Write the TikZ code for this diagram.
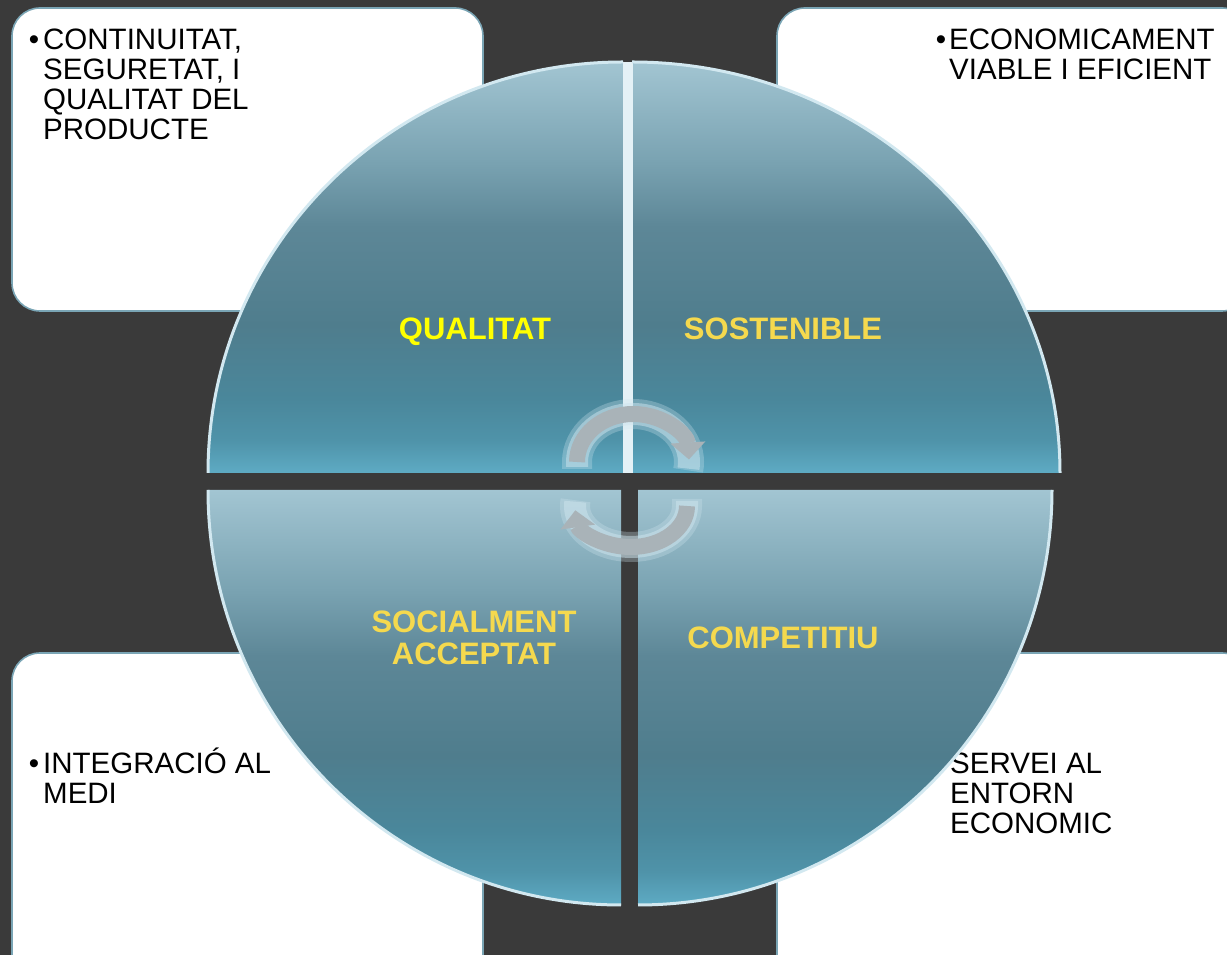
\documentclass[tikz,border=0pt]{standalone}
\usepackage{fontspec}
\setmainfont{Liberation Sans}
\usetikzlibrary{arrows.meta}
\definecolor{bgdark}{HTML}{3A3A3A}
\definecolor{boxedge}{HTML}{7AA5B5}
\definecolor{rimc}{HTML}{D2E8F0}
\definecolor{sepc}{HTML}{E4F1F6}
\definecolor{glowc}{HTML}{CFE5EE}
\definecolor{arrowgray}{HTML}{A9B3B8}
\definecolor{brightyellow}{HTML}{FFFF00}
\definecolor{gold}{HTML}{F5D94E}
\definecolor{qa}{HTML}{5EABC4}
\definecolor{qb}{HTML}{4F93A9}
\definecolor{qc}{HTML}{4A879B}
\definecolor{qd}{HTML}{4F7D8D}
\definecolor{qe}{HTML}{5D8797}
\definecolor{qf}{HTML}{7AA3B2}
\definecolor{qg}{HTML}{A2C5D2}
\pgfdeclareverticalshading{quadshade}{100bp}{color(0bp)=(qa); color(25bp)=(qa); color(29bp)=(qb); color(34bp)=(qc); color(43bp)=(qd); color(55bp)=(qe); color(63bp)=(qf); color(75bp)=(qg); color(100bp)=(qg)}
\begin{document}
\begin{tikzpicture}[x=1pt,y=1pt,
  infobox/.style={fill=white, draw=boxedge, line width=1.6pt, rounded corners=28pt},
  boxtext/.style={anchor=north west, inner sep=0pt, align=left, font=\fontsize{29.5}{30}\selectfont, text=black},
  qlabel/.style={anchor=north, inner sep=0pt, align=center, font=\fontsize{31}{32}\selectfont\bfseries, text=gold},
  quad/.style={shading=quadshade},
  rimline/.style={draw=rimc, line width=3pt},
  cyc/.style={draw=arrowgray, line width=16pt, -{Triangle[length=17pt,width=34pt]}},
  glowwide/.style={draw=glowc, line width=30pt, opacity=0.3},
  glownarrow/.style={draw=glowc, line width=22pt, opacity=0.5}
]
\clip (0,0) rectangle (1227,955);
\fill[bgdark] (0,0) rectangle (1227,955);

% corner boxes
\draw[infobox] (12,644) rectangle (483,947);
\draw[infobox] (777,644) rectangle (1250,947);
\draw[infobox] (12,-30) rectangle (483,302);
\draw[infobox] (777,-30) rectangle (1250,302);

% box texts
\node[boxtext] (t1) at (43,934) {\rule{0pt}{28pt}\llap{•\hspace{4pt}}CONTINUITAT,\\SEGURETAT, I\\QUALITAT DEL\\PRODUCTE};
\node[boxtext] (t2) at (949,934) {\rule{0pt}{28pt}\llap{•\hspace{3pt}}ECONOMICAMENT\\VIABLE I EFICIENT};
\node[boxtext] (t3) at (43,210) {\rule{0pt}{28pt}\llap{•\hspace{4pt}}INTEGRACIÓ AL\\MEDI};
\node[boxtext] (t4) at (950,210) {\rule{0pt}{28pt}SERVEI AL\\ENTORN\\ECONOMIC};

% quadrants
\shade[quad] (623,482) -- (208,482) arc[start angle=180, end angle=90, x radius=415, y radius=411] -- cycle;
\shade[quad] (632,482) -- (632,893) arc[start angle=90, end angle=0, x radius=428, y radius=411] -- cycle;
\shade[quad] (621,465) -- (208,465) arc[start angle=180, end angle=270, x radius=413, y radius=415] -- cycle;
\shade[quad] (638,465) -- (1052,465) arc[start angle=0, end angle=-90, x radius=414, y radius=415] -- cycle;

% light separator between upper quadrants
\fill[sepc] (622.5,482) rectangle (632.5,893);

% rims
\draw[rimline] (208,482) arc[start angle=180, end angle=90, x radius=415, y radius=411];
\draw[rimline] (632,893) arc[start angle=90, end angle=0, x radius=428, y radius=411];
\draw[rimline] (208,465) arc[start angle=180, end angle=270, x radius=413, y radius=415];
\draw[rimline] (1052,465) arc[start angle=0, end angle=-90, x radius=414, y radius=415];

% cycle arrows (soft glow, then arrow)
\draw[glowwide] (577,486) -- (577,493) arc[start angle=180, end angle=-10, x radius=56, y radius=48];
\draw[glownarrow] (577,488) -- (577,493) arc[start angle=180, end angle=-8, x radius=56, y radius=48];
\draw[cyc] (577,493) arc[start angle=180, end angle=3, x radius=56, y radius=48];
\draw[glowwide] (687,456) -- (687,449) arc[start angle=0, end angle=-188, x radius=56, y radius=41];
\draw[glownarrow] (687,454) -- (687,449) arc[start angle=0, end angle=-186, x radius=56, y radius=41];
\draw[cyc] (687,449) arc[start angle=0, end angle=-174, x radius=56, y radius=41];

% quadrant labels
\node[qlabel, text=brightyellow] (q1) at (475,640) {\rule{0pt}{24pt}QUALITAT};
\node[qlabel] (q2) at (783,640) {\rule{0pt}{24pt}SOSTENIBLE};
\node[qlabel] (q3) at (474,347) {\rule{0pt}{24pt}SOCIALMENT\\ACCEPTAT};
\node[qlabel] (q4) at (783,331) {\rule{0pt}{24pt}COMPETITIU};
\end{tikzpicture}
\end{document}
